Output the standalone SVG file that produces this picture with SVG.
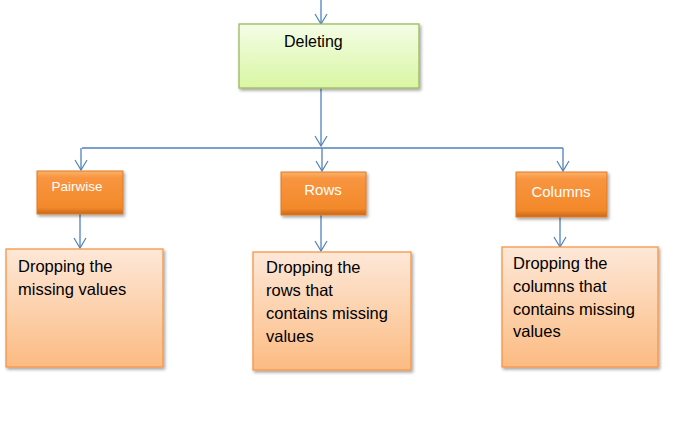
<svg xmlns="http://www.w3.org/2000/svg" width="692" height="430" viewBox="0 0 692 430">
<defs>
<linearGradient id="gGreen" x1="0" y1="0" x2="0" y2="1"><stop offset="0" stop-color="#f4fde6"/><stop offset="1" stop-color="#d9f6a3"/></linearGradient>
<linearGradient id="gOrange" x1="0" y1="0" x2="0" y2="1"><stop offset="0" stop-color="#fbb36b"/><stop offset="0.15" stop-color="#f89540"/><stop offset="0.85" stop-color="#f3892a"/><stop offset="1" stop-color="#c8681c"/></linearGradient>
<linearGradient id="gPeach" x1="0" y1="0" x2="0" y2="1"><stop offset="0" stop-color="#fde8d8"/><stop offset="1" stop-color="#fcbb82"/></linearGradient>
<filter id="sh" x="-10%" y="-10%" width="130%" height="130%"><feDropShadow dx="1.5" dy="2" stdDeviation="1.5" flood-color="#000" flood-opacity="0.35"/></filter>
<marker id="arr" viewBox="0 0 12 14" refX="11" refY="7" markerWidth="12" markerHeight="14" markerUnits="userSpaceOnUse" orient="auto">
<path d="M1,1 L11,7 L1,13" fill="none" stroke="#4f81bd" stroke-width="1.2"/>
</marker>
</defs>
<style>
.c{fill:none;stroke:#4f81bd;stroke-width:1.3}
.t{font-family:"Liberation Sans",Arial,sans-serif;fill:#000}
.w{font-family:"Liberation Sans",Arial,sans-serif;fill:#fff;text-anchor:middle}
.btn{fill:url(#gOrange);stroke:#e07a22;stroke-width:1;filter:url(#sh)}
.box{fill:url(#gPeach);stroke:#f79646;stroke-width:1.3;filter:url(#sh)}
</style>
<rect width="692" height="430" fill="#fff"/>
<g id="connectors">
<path class="c" d="M321,0 V24" marker-end="url(#arr)"/>
<path class="c" d="M321,88 V146" marker-end="url(#arr)"/>
<path class="c" d="M82,148 H563"/>
<path class="c" d="M81,148 V170" marker-end="url(#arr)"/>
<path class="c" d="M322,148 V171" marker-end="url(#arr)"/>
<path class="c" d="M563,148 V171" marker-end="url(#arr)"/>
<path class="c" d="M80,214 V248" marker-end="url(#arr)"/>
<path class="c" d="M321,215 V251" marker-end="url(#arr)"/>
<path class="c" d="M560,217 V247" marker-end="url(#arr)"/>
</g>
<g id="deleting">
<rect x="239" y="24" width="180" height="64" fill="url(#gGreen)" stroke="#9bbb59" stroke-width="1.3" filter="url(#sh)"/>
<text class="t" x="284" y="47" font-size="16">Deleting</text>
</g>
<g id="pairwise">
<rect class="btn" x="37" y="171" width="86" height="43"/>
<text class="w" x="77" y="191" font-size="13.5">Pairwise</text>
</g>
<g id="rows">
<rect class="btn" x="281" y="172" width="85" height="43"/>
<text class="w" x="323" y="195" font-size="15">Rows</text>
</g>
<g id="columns">
<rect class="btn" x="516" y="172" width="91" height="45"/>
<text class="w" x="561" y="197" font-size="15">Columns</text>
</g>
<g id="box-pairwise">
<rect class="box" x="6" y="249" width="157" height="118"/>
<text class="t" font-size="16.5"><tspan x="18" y="272">Dropping the</tspan><tspan x="18" y="295">missing values</tspan></text>
</g>
<g id="box-rows">
<rect class="box" x="253" y="252" width="158" height="118"/>
<text class="t" font-size="16.5"><tspan x="266" y="273">Dropping the</tspan><tspan x="266" y="296">rows that</tspan><tspan x="266" y="319">contains missing</tspan><tspan x="266" y="342">values</tspan></text>
</g>
<g id="box-columns">
<rect class="box" x="502" y="247" width="156" height="120"/>
<text class="t" font-size="16.5"><tspan x="513" y="269">Dropping the</tspan><tspan x="513" y="292">columns that</tspan><tspan x="513" y="315">contains missing</tspan><tspan x="513" y="337">values</tspan></text>
</g>
</svg>
